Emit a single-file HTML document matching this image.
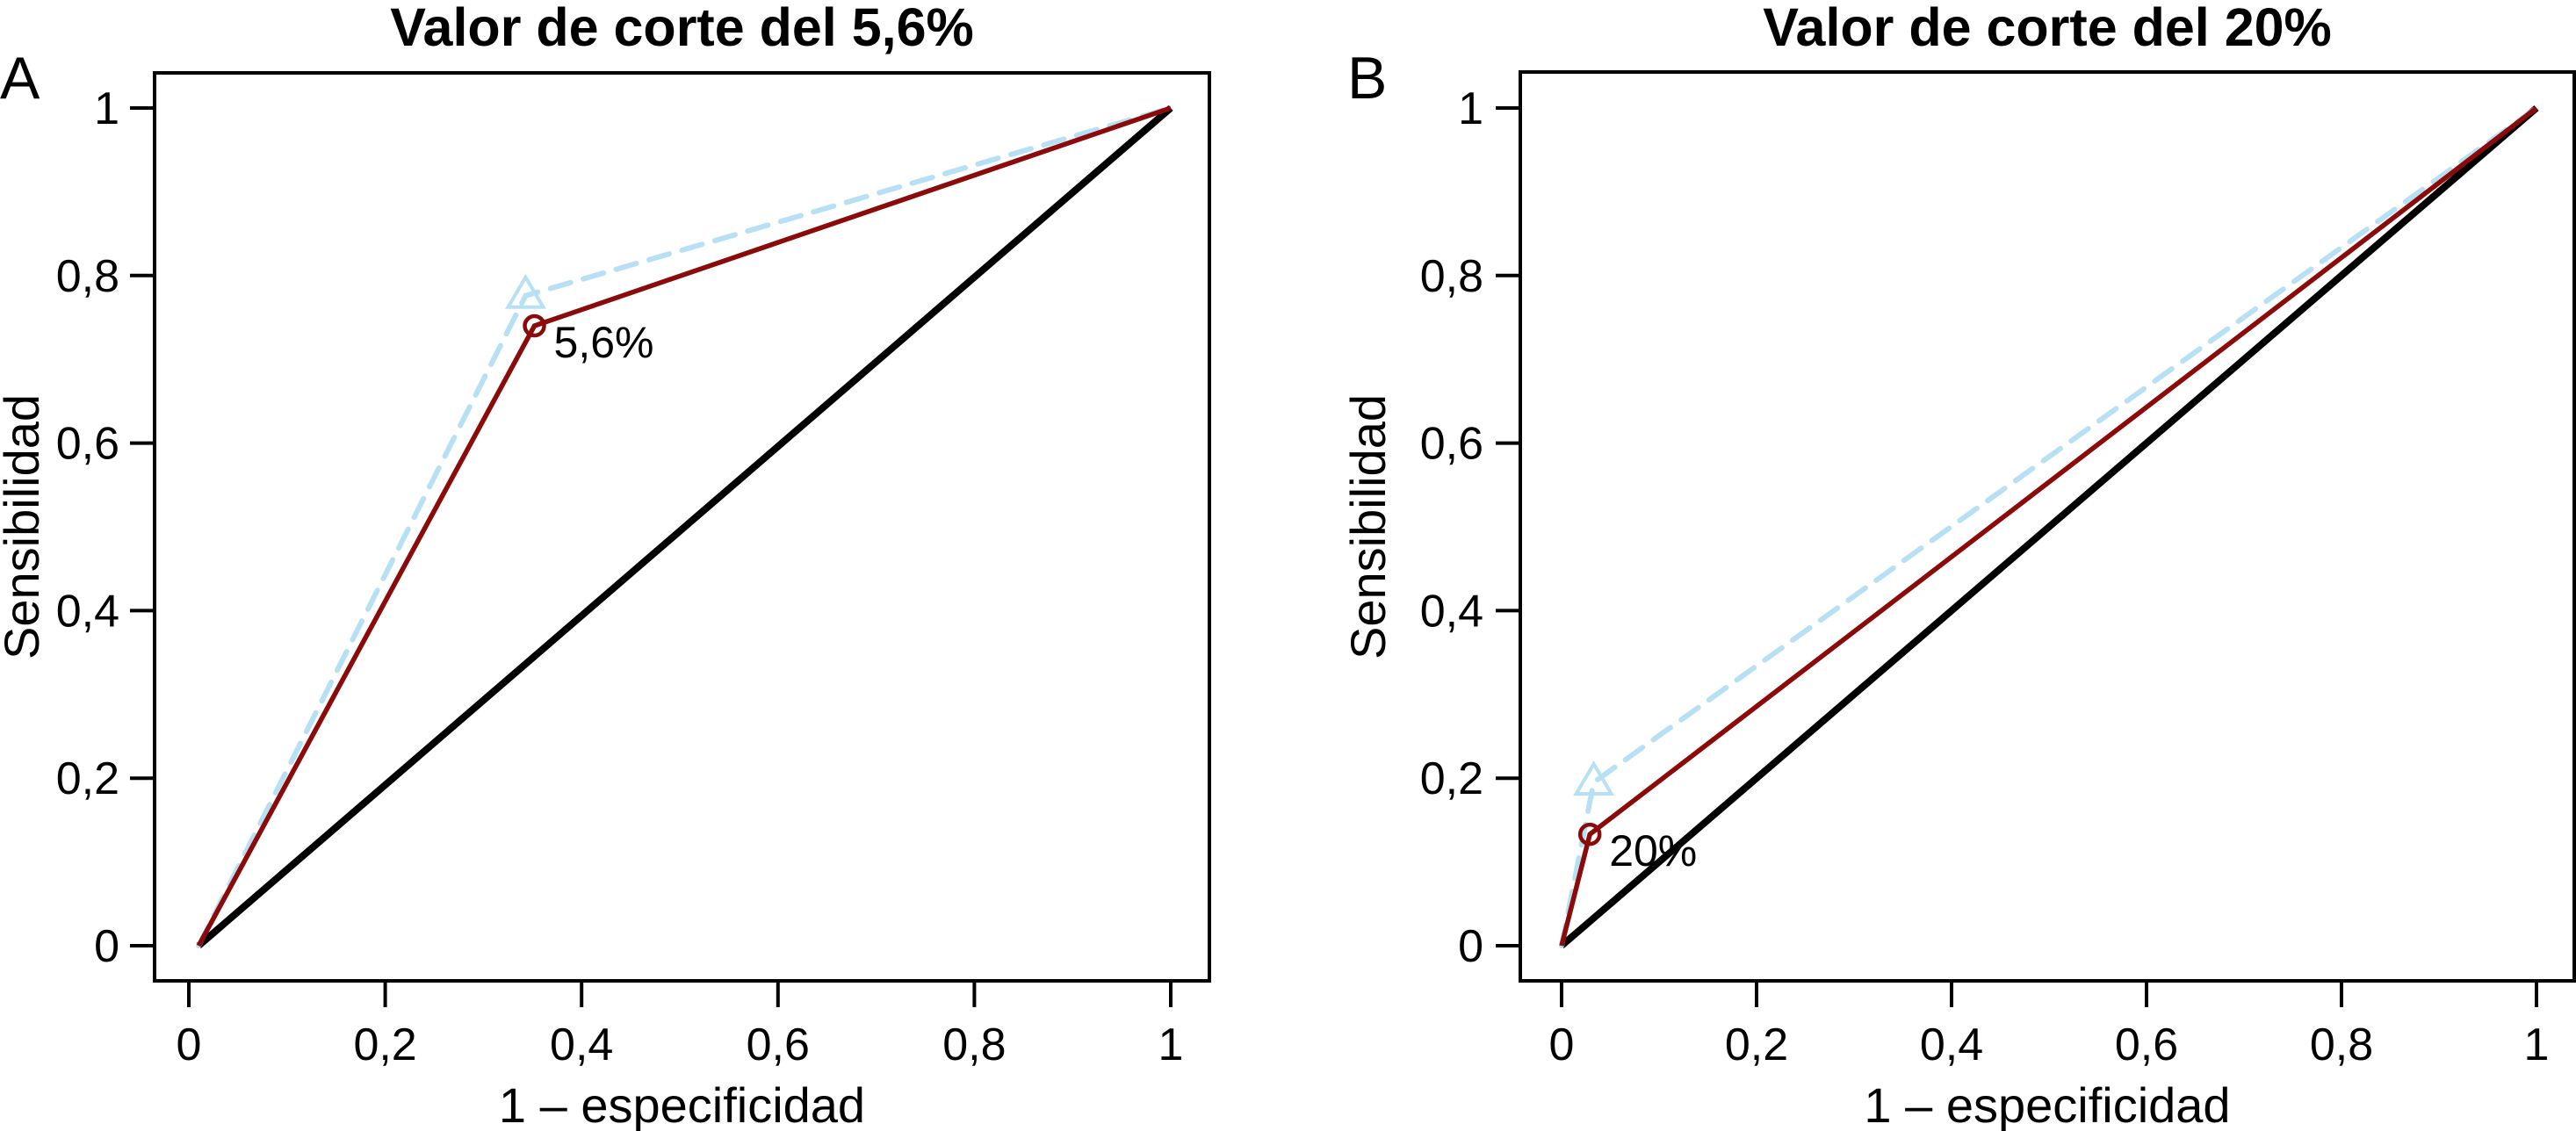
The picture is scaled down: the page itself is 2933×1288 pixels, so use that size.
<!DOCTYPE html>
<html><head><meta charset="utf-8"><style>
html,body{margin:0;padding:0;background:#fff;width:2933px;height:1288px;overflow:hidden}
svg text{font-family:"Liberation Sans Narrow","Liberation Sans",sans-serif;fill:#000}
</style></head><body>
<svg id="chart" width="2933" height="1288" viewBox="0 0 2933 1288" xmlns="http://www.w3.org/2000/svg"></svg>
<script>
const ticks = [0, 0.2, 0.4, 0.6, 0.8, 1];
const tickLabels = ["0", "0,2", "0,4", "0,6", "0,8", "1"];
const titles = ["Valor de corte del 5,6%", "Valor de corte del 20%"];
const panelLetters = ["A", "B"];
const cutLabels = ["5,6%", "20%"];
// panel A series
const refAx = [0.01, 1];
const refAy = [0, 1];
const redAx = [0.01, 0.352, 1];
const redAy = [0, 0.740, 1];
const blueAx = [0.01, 0.343, 1];
const blueAy = [0, 0.776, 1];
// panel B series
const refBx = [0, 1];
const refBy = [0, 1];
const redBx = [0, 0.029, 1];
const redBy = [0, 0.133, 1];
const blueBx = [0, 0.033, 1];
const blueBy = [0, 0.195, 1];

const NS = "http://www.w3.org/2000/svg";
const svg = document.getElementById('chart');
function mk(tag, attrs, parent){const e=document.createElementNS(NS,tag);for(const k in attrs)e.setAttribute(k,attrs[k]);(parent||svg).appendChild(e);return e;}

const panels = [
 {box:[176,83,1377,1117], x0:215, x1:1333, y0:1077, y1:123, letterX:0, ylabX:44, tickLabR:136,
  ref:[refAx,refAy], red:[redAx,redAy], blue:[blueAx,blueAy], key:'a'},
 {box:[1731,82,2931,1117], x0:1778, x1:2888, y0:1077, y1:123, letterX:1534, ylabX:1577, tickLabR:1689,
  ref:[refBx,refBy], red:[redBx,redBy], blue:[blueBx,blueBy], key:'b'}
];

panels.forEach((p,i)=>{
  const g = mk('g',{});
  
  
  const sx = v => p.x0 + v*(p.x1-p.x0);
  const sy = v => p.y0 + v*(p.y1-p.y0);
  const [L,T,R,B] = p.box;
  const cx=(L+R)/2;
  const t = mk('text',{x:cx,y:52,'text-anchor':'middle','font-size':61,'font-weight':'bold'},g);
  t.textContent = titles[i];
  
  
  const lt = mk('text',{x:p.letterX,y:112,'font-size':68},g);
  lt.textContent = panelLetters[i];
  
  
  const box = mk('rect',{x:L,y:T,width:R-L,height:B-T,fill:'none',stroke:'#000','stroke-width':4},g);
  
  
  ticks.forEach((v,j)=>{
    const yt = mk('line',{x1:L-28,x2:L,y1:sy(v),y2:sy(v),stroke:'#000','stroke-width':4},g);
    
    
    const yl = mk('text',{x:p.tickLabR,y:sy(v)+18,'text-anchor':'end','font-size':52},g);
    yl.textContent = tickLabels[j];
    
    
    const xt = mk('line',{x1:sx(v),x2:sx(v),y1:B,y2:B+30,stroke:'#000','stroke-width':4},g);
    
    
    const xl = mk('text',{x:sx(v),y:1207,'text-anchor':'middle','font-size':52},g);
    xl.textContent = tickLabels[j];
    
    
  });
  const xtitle = mk('text',{x:cx,y:1278,'text-anchor':'middle','font-size':56},g);
  xtitle.textContent = '1 \u2013 especificidad';
  
  
  const ytitle = mk('text',{x:p.ylabX,y:600,'text-anchor':'middle','font-size':56,transform:`rotate(-90 ${p.ylabX} 600)`},g);
  ytitle.textContent = 'Sensibilidad';
  
  
  const pts = s => s[0].map((x,k)=>sx(x)+','+sy(s[1][k])).join(' ');
  const ref = mk('polyline',{points:pts(p.ref),fill:'none',stroke:'#000','stroke-width':8},g);
  
  
  const blue = mk('polyline',{points:pts(p.blue),fill:'none',stroke:'#b8e0f4','stroke-width':6,'stroke-dasharray':'24 15','stroke-linecap':'round'},g);
  
  
  const red = mk('polyline',{points:pts(p.red),fill:'none',stroke:'#8b0a0a','stroke-width':5.5},g);
  
  
  const bx=sx(p.blue[0][1]), by=sy(p.blue[1][1]);
  const tri = mk('polygon',{points:`${bx},${by-21} ${bx-20},${by+13} ${bx+20},${by+13}`,fill:'none',stroke:'#b8e0f4','stroke-width':4},g);
  
  
  const rx=sx(p.red[0][1]), ry=sy(p.red[1][1]);
  const c = mk('circle',{cx:rx,cy:ry,r:11,fill:'none',stroke:'#8b0a0a','stroke-width':4.5},g);
  
  
  const cl = mk('text',{x:rx+22,y:ry+36,'font-size':50},g);
  cl.textContent = cutLabels[i];
  
  
});
</script>
</body></html>
